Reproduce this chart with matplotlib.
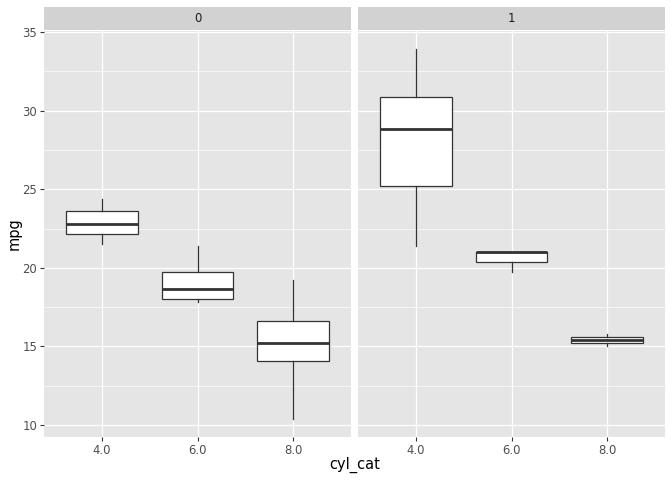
import matplotlib.pyplot as plt
import numpy as np

# mtcars mpg, split by am (facet) and cyl (x category)
cyl_labels = ["4.0", "6.0", "8.0"]
facets = ["0", "1"]
mpg_am0 = [
    [24.4, 22.8, 21.5],
    [21.4, 18.1, 19.2, 17.8],
    [18.7, 14.3, 16.4, 17.3, 15.2, 10.4, 10.4, 14.7, 15.5, 15.2, 13.3, 19.2],
]
mpg_am1 = [
    [22.8, 32.4, 30.4, 33.9, 27.3, 26.0, 30.4, 21.4],
    [21.0, 21.0, 19.7],
    [15.8, 15.0],
]
y_ticks = [10, 15, 20, 25, 30, 35]

W, H = 672, 480
fig = plt.figure(figsize=(W / 100, H / 100), dpi=100)
fig.patch.set_facecolor("white")

panel_bg = "#E5E5E5"
strip_bg = "#D2D2D2"
line_col = "#333333"
txt_col = "#4D4D4D"

ylo, yhi = 9.225, 35.075
panels = [(44, 351), (358, 665)]
top_px, bot_px = 31, 437
strip_top, strip_bot = 7, 30

for i, (data, lab) in enumerate(zip([mpg_am0, mpg_am1], facets)):
    x0, x1 = panels[i]
    ax = fig.add_axes([x0 / W, 1 - bot_px / H, (x1 - x0) / W, (bot_px - top_px) / H])
    ax.set_facecolor(panel_bg)
    for s in ax.spines.values():
        s.set_visible(False)
    ax.set_xlim(0.4, 3.6)
    ax.set_ylim(ylo, yhi)
    ax.set_yticks(y_ticks)
    ax.set_yticks([12.5, 17.5, 22.5, 27.5, 32.5], minor=True)
    ax.grid(True, which="major", color="white", lw=0.9)
    ax.grid(True, which="minor", axis="y", color="white", lw=0.45)
    ax.set_axisbelow(True)

    ax.boxplot(data, positions=[1, 2, 3], widths=0.75, whis=1.5,
               showcaps=False, showfliers=False, patch_artist=True,
               boxprops=dict(facecolor="white", edgecolor=line_col, lw=0.9),
               whiskerprops=dict(color=line_col, lw=0.9),
               medianprops=dict(color=line_col, lw=2.0))
    ax.set_xticks([1, 2, 3])
    ax.set_xticklabels(cyl_labels)
    ax.tick_params(axis="both", which="major", length=3, width=0.8,
                   color=line_col, labelsize=8.4, labelcolor=txt_col, pad=2)
    ax.tick_params(axis="both", which="minor", length=0)
    if i == 1:
        ax.tick_params(axis="y", which="major", left=False, labelleft=False)

    sax = fig.add_axes([x0 / W, 1 - strip_bot / H, (x1 - x0) / W, (strip_bot - strip_top) / H])
    sax.set_facecolor(strip_bg)
    sax.set_xticks([])
    sax.set_yticks([])
    for s in sax.spines.values():
        s.set_visible(False)
    sax.text(0.5, 0.5, lab, ha="center", va="center", fontsize=8.4,
             color="#1A1A1A", transform=sax.transAxes)

fig.text((44 + 665) / 2 / W, 1 - 465 / H, "cyl_cat", ha="center", va="center",
         fontsize=10.5, color="black")
fig.text(14 / W, 1 - 234 / H, "mpg", ha="center", va="center", rotation=90,
         fontsize=10.5, color="black")

fig.savefig("out.png", dpi=100)
